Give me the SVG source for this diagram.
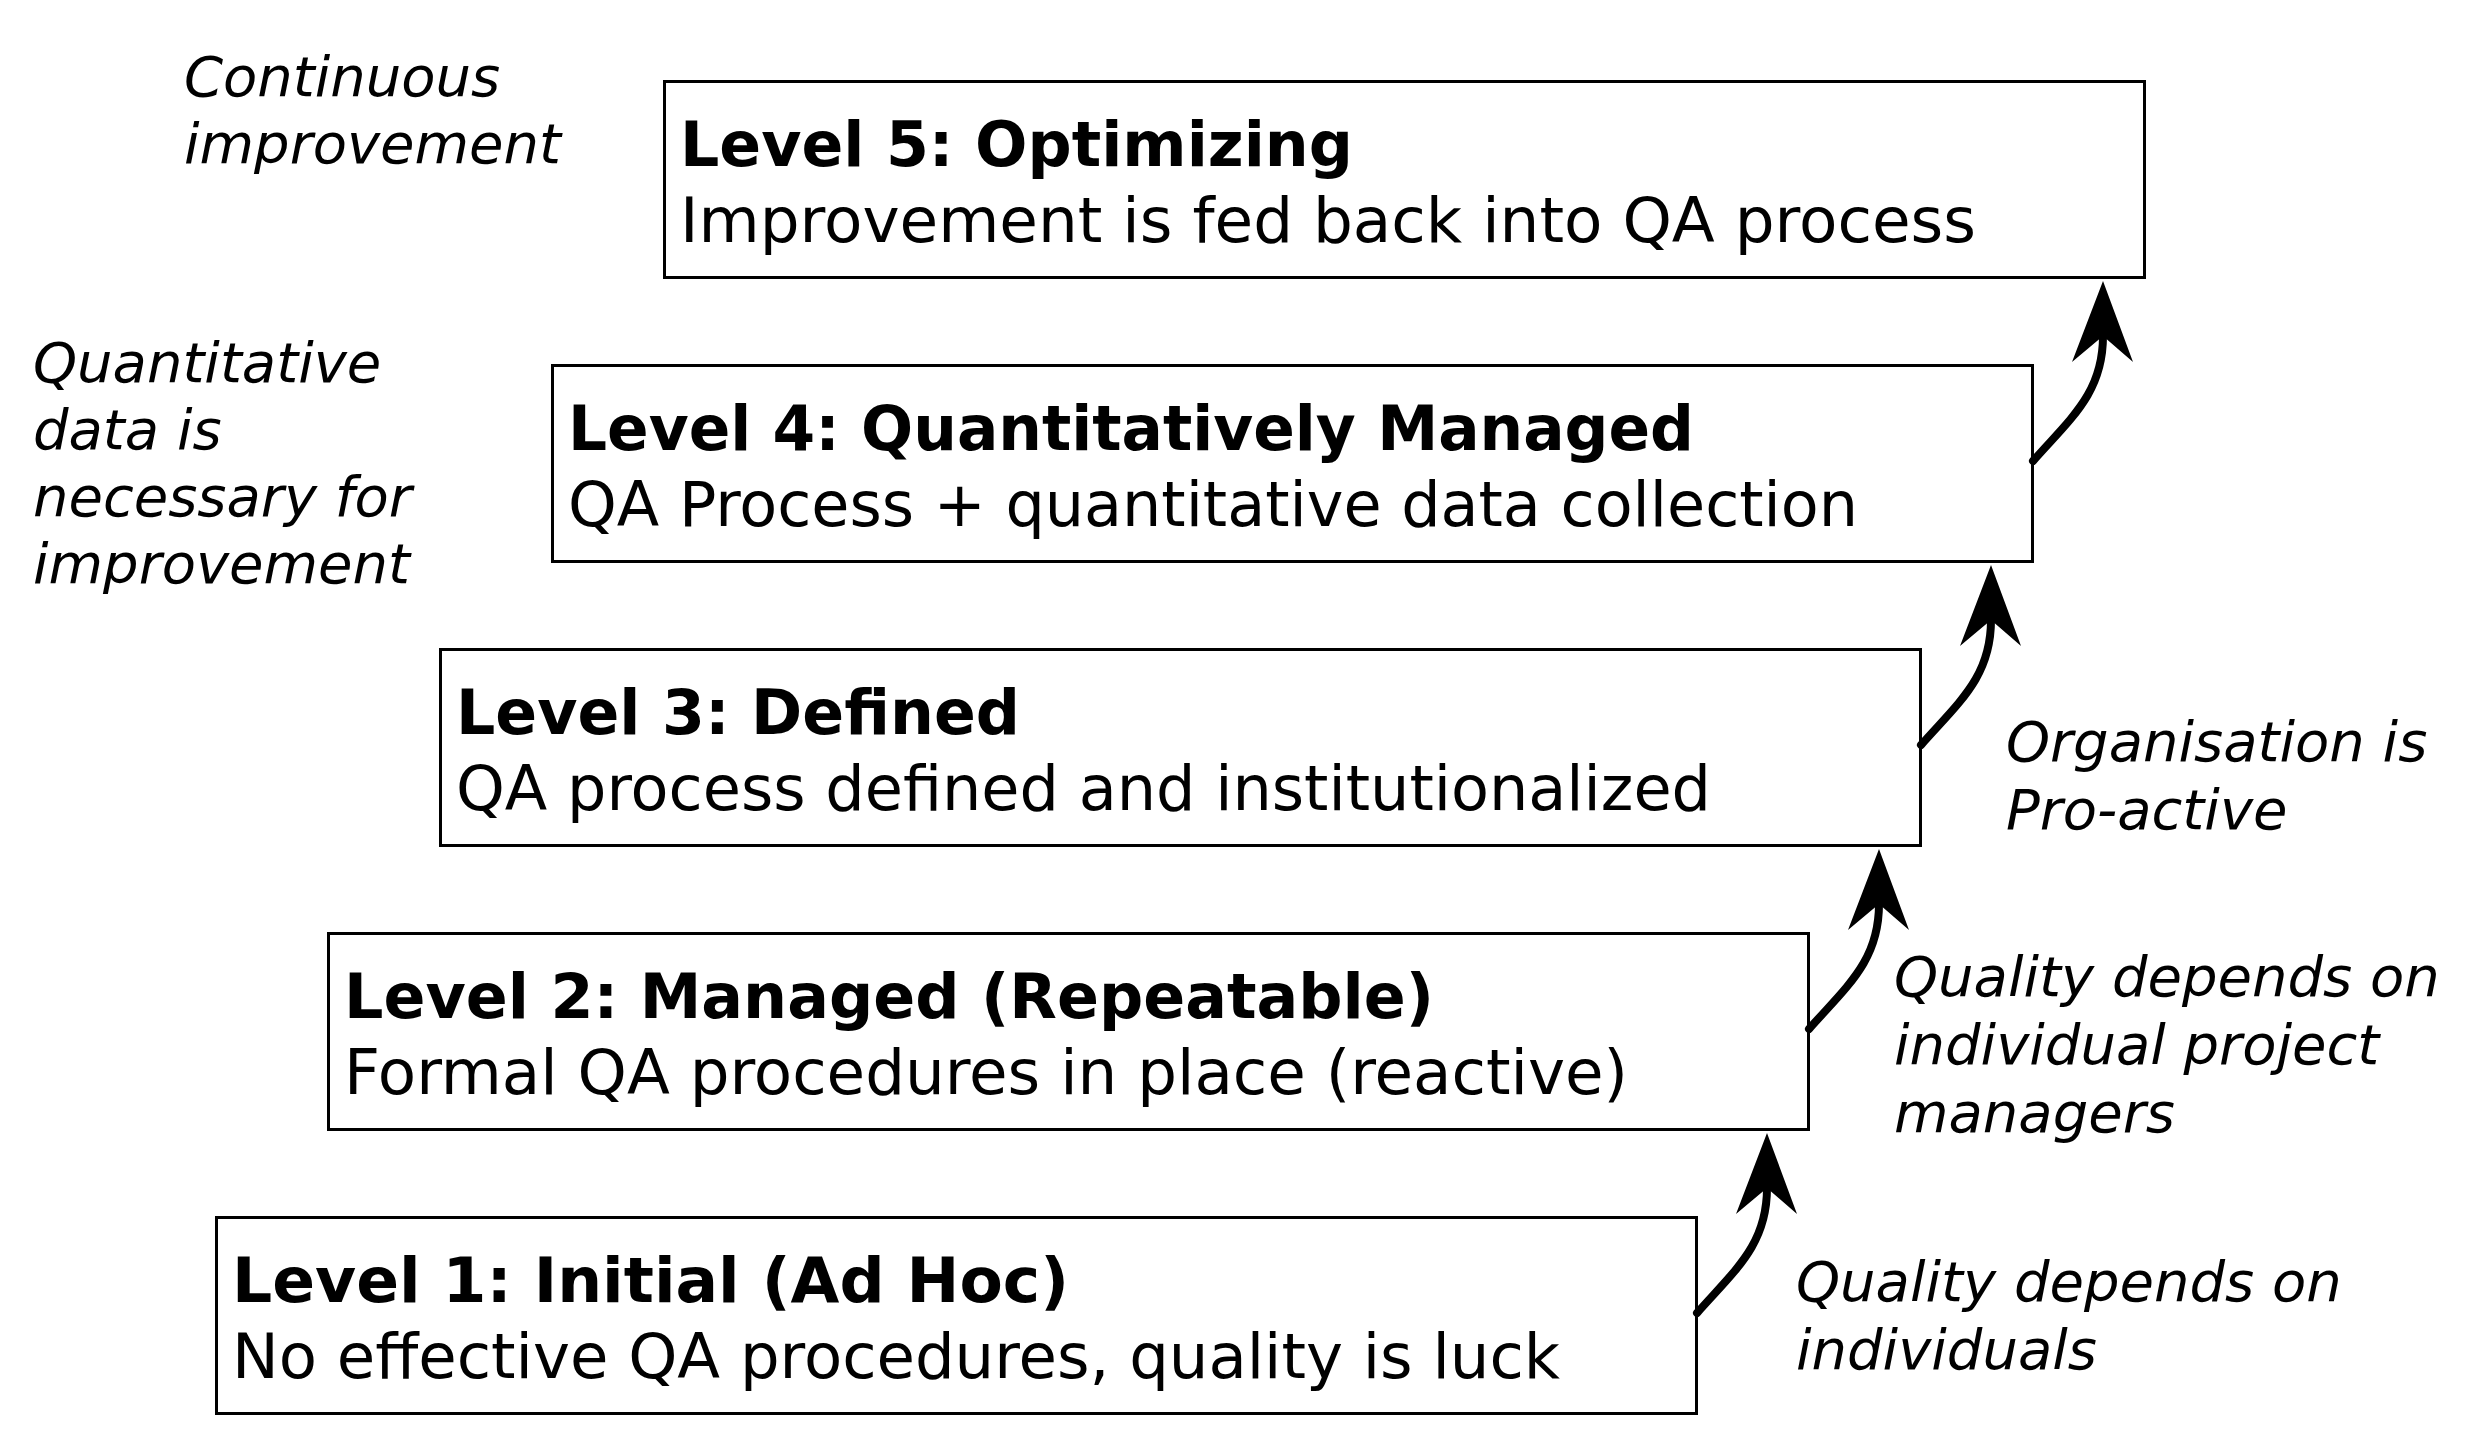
<svg xmlns="http://www.w3.org/2000/svg" width="2476" height="1448" viewBox="0 0 2476 1448">
  <style>
    .box { fill: #ffffff; stroke: #000000; stroke-width: 3; }
    .title { font-family: "DejaVu Sans", Verdana, sans-serif; font-weight: bold; font-size: 63px; fill: #000; }
    .desc { font-family: "DejaVu Sans", Verdana, sans-serif; font-size: 62.5px; fill: #000; }
    .note { font-family: "DejaVu Sans", Verdana, sans-serif; font-style: italic; font-size: 56px; fill: #000; }
    .step { fill: none; stroke: #000; stroke-width: 8; stroke-linecap: round; }
  </style>
  <defs>
    <marker id="head" markerUnits="userSpaceOnUse" orient="auto" markerWidth="120" markerHeight="120" refX="0" refY="0" overflow="visible">
      <path d="M55,0 L-26,-31 L0,0 L-26,30 Z" fill="#000"/>
    </marker>
  </defs>
  <rect width="2476" height="1448" fill="#ffffff"/>

  <!-- maturity levels, each shifted right and up by one step -->
  <g id="level1">
    <rect class="box" x="216.5" y="1217.5" width="1480" height="196"/>
    <text class="title" x="232" y="1302" textLength="837" lengthAdjust="spacingAndGlyphs">Level 1: Initial (Ad Hoc)</text>
    <text class="desc" x="232" y="1378" textLength="1328" lengthAdjust="spacingAndGlyphs">No effective QA procedures, quality is luck</text>
  </g>
  <g id="level2">
    <rect class="box" x="328.5" y="933.5" width="1480" height="196"/>
    <text class="title" x="344" y="1018" textLength="1090" lengthAdjust="spacingAndGlyphs">Level 2: Managed (Repeatable)</text>
    <text class="desc" x="344" y="1094" textLength="1284" lengthAdjust="spacingAndGlyphs">Formal QA procedures in place (reactive)</text>
  </g>
  <g id="level3">
    <rect class="box" x="440.5" y="649.5" width="1480" height="196"/>
    <text class="title" x="456" y="734" textLength="564" lengthAdjust="spacingAndGlyphs">Level 3: Defined</text>
    <text class="desc" x="456" y="810" textLength="1255" lengthAdjust="spacingAndGlyphs">QA process defined and institutionalized</text>
  </g>
  <g id="level4">
    <rect class="box" x="552.5" y="365.5" width="1480" height="196"/>
    <text class="title" x="568" y="450" textLength="1126" lengthAdjust="spacingAndGlyphs">Level 4: Quantitatively Managed</text>
    <text class="desc" x="568" y="526" textLength="1290" lengthAdjust="spacingAndGlyphs">QA Process + quantitative data collection</text>
  </g>
  <g id="level5">
    <rect class="box" x="664.5" y="81.5" width="1480" height="196"/>
    <text class="title" x="680" y="166" textLength="673" lengthAdjust="spacingAndGlyphs">Level 5: Optimizing</text>
    <text class="desc" x="680" y="242" textLength="1296" lengthAdjust="spacingAndGlyphs">Improvement is fed back into QA process</text>
  </g>

  <!-- side notes -->
  <g id="note5">
    <text class="note" x="184" y="96">Continuous</text>
    <text class="note" x="184" y="163">improvement</text>
  </g>
  <g id="note4">
    <text class="note" x="33" y="382">Quantitative</text>
    <text class="note" x="33" y="449">data is</text>
    <text class="note" x="33" y="516">necessary for</text>
    <text class="note" x="33" y="583">improvement</text>
  </g>
  <g id="note3">
    <text class="note" x="2006" y="761">Organisation is</text>
    <text class="note" x="2006" y="829">Pro-active</text>
  </g>
  <g id="note2">
    <text class="note" x="1894" y="996">Quality depends on</text>
    <text class="note" x="1894" y="1064">individual project</text>
    <text class="note" x="1894" y="1132">managers</text>
  </g>
  <g id="note1">
    <text class="note" x="1796" y="1301">Quality depends on</text>
    <text class="note" x="1796" y="1369">individuals</text>
  </g>

  <!-- curved arrows leading from each level to the next -->
  <g id="connectors">
    <path class="step" marker-end="url(#head)" d="M1697,1313 C1735,1270 1767,1245 1767,1188"/>
    <path class="step" marker-end="url(#head)" d="M1809,1029 C1847,986 1879,961 1879,904"/>
    <path class="step" marker-end="url(#head)" d="M1921,745 C1959,702 1991,677 1991,620"/>
    <path class="step" marker-end="url(#head)" d="M2033,461 C2071,418 2103,393 2103,336"/>
  </g>
</svg>
